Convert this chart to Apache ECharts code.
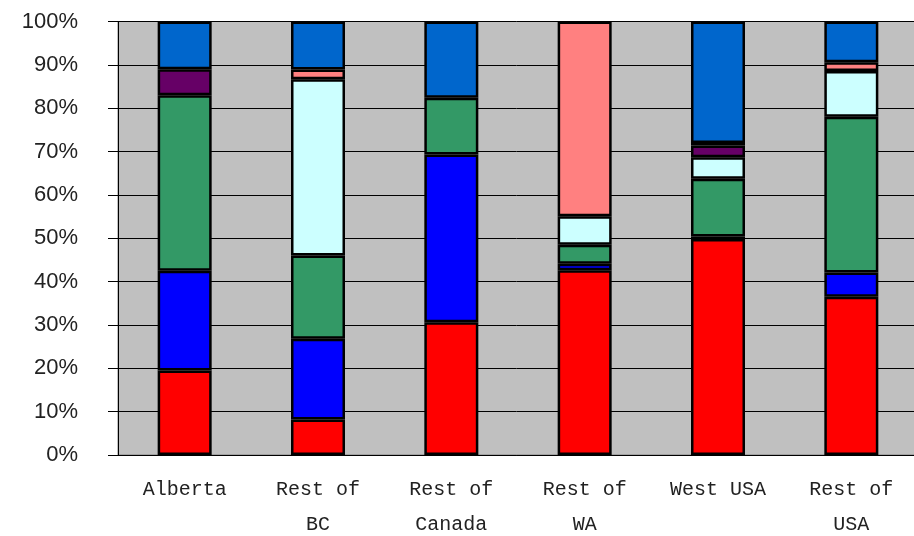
<!DOCTYPE html>
<html>
<head>
    <meta charset="utf-8" />
    <title>ECharts</title>
    <script src="https://cdn.jsdelivr.net/npm/echarts@6/dist/echarts.min.js"></script>
</head>
<body style="margin:0">
    <style>
        #main {
            width: 914px;
            height: 536px;
        }
    </style>
    <div id="main"></div>
    <script type="text/javascript">
        var categories = ['Alberta', 'Rest of\nBC', 'Rest of\nCanada', 'Rest of\nWA', 'West USA', 'Rest of\nUSA'];

        // shares (%) for each segment, bottom to top
        var seg1 = [19.5, 8.2, 30.6, 42.6, 49.8, 36.5];
        var seg2 = [23.0, 18.6, 38.7, 1.5, 0.6, 5.6];
        var seg3 = [40.5, 19.2, 13.1, 4.4, 13.3, 35.9];
        var seg4 = [0, 40.7, 0, 6.6, 5.0, 10.6];
        var seg5 = [6.0, 0, 0, 0, 2.7, 0];
        var seg6 = [0, 2.2, 0, 44.9, 0.6, 2.0];
        var seg7 = [11.0, 11.1, 17.6, 0, 28.0, 9.4];

        var yTicks = [0, 10, 20, 30, 40, 50, 60, 70, 80, 90, 100];

        var segments = [seg1, seg2, seg3, seg4, seg5, seg6, seg7];
        var colors = ['#FF0000', '#0000FF', '#339966', '#CCFFFF', '#660066', '#FF8080', '#0066CC'];

        var myChart = echarts.init(document.getElementById('main'));
        var option = {
            animation: false,
            grid: {
                left: 118,
                right: -4,
                top: 21.5,
                bottom: 81,
                outerBoundsMode: 'none',
                containLabel: false,
                show: true,
                backgroundColor: '#C0C0C0',
                borderColor: '#808080',
                borderWidth: 1
            },
            xAxis: {
                type: 'category',
                data: categories,
                axisLine: { lineStyle: { color: '#000', width: 1 } },
                axisTick: { length: 7, lineStyle: { color: '#000' } },
                axisLabel: {
                    margin: 17,
                    color: '#222',
                    fontFamily: 'Liberation Mono',
                    fontSize: 20,
                    lineHeight: 35,
                    interval: 0
                }
            },
            yAxis: {
                type: 'value',
                min: yTicks[0],
                max: yTicks[yTicks.length - 1],
                interval: 10,
                axisLine: { show: true, lineStyle: { color: '#000', width: 1 } },
                axisTick: { show: true, length: 10, lineStyle: { color: '#000' } },
                splitLine: { lineStyle: { color: '#000', width: 1 } },
                axisLabel: {
                    margin: 40,
                    color: '#222',
                    fontFamily: 'Liberation Sans',
                    fontSize: 22,
                    formatter: function (v) { return v + '%'; }
                }
            },
            series: segments.map(function (arr, i) {
                return {
                    type: 'bar',
                    stack: 'total',
                    barWidth: 54,
                    data: arr.map(function (v) { return v === 0 ? '-' : v; }),
                    itemStyle: {
                        color: colors[i],
                        borderColor: '#000',
                        borderWidth: 2.5
                    }
                };
            })
        };
        myChart.setOption(option);
    </script>
</body>
</html>
